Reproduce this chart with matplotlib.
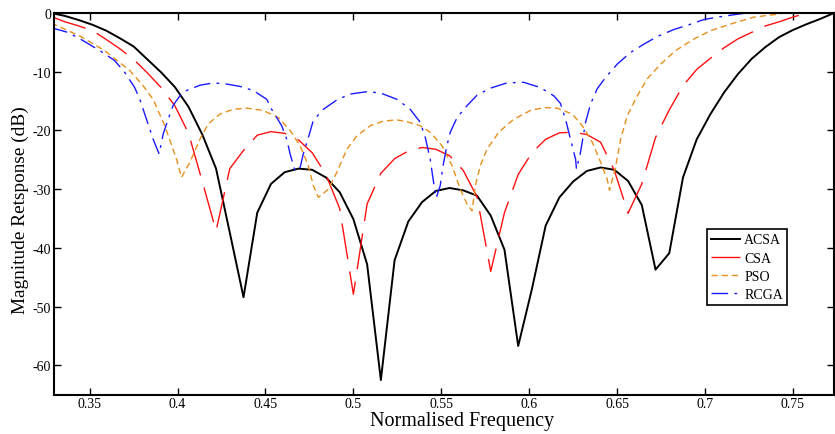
import matplotlib
matplotlib.use("Agg")
import matplotlib.pyplot as plt

plt.rcParams['font.family'] = ['Liberation Serif', 'DejaVu Serif']
plt.rcParams['axes.unicode_minus'] = False

# ---- data ----
# ACSA and CSA sampled on the normalised-frequency grid k/128, k = 42..99
freq_grid = [42/128, 43/128, 44/128, 45/128, 46/128, 47/128, 48/128, 49/128,
             50/128, 51/128, 52/128, 53/128, 54/128, 55/128, 56/128, 57/128,
             58/128, 59/128, 60/128, 61/128, 62/128, 63/128, 64/128, 65/128,
             66/128, 67/128, 68/128, 69/128, 70/128, 71/128, 72/128, 73/128,
             74/128, 75/128, 76/128, 77/128, 78/128, 79/128, 80/128, 81/128,
             82/128, 83/128, 84/128, 85/128, 86/128, 87/128, 88/128, 89/128,
             90/128, 91/128, 92/128, 93/128, 94/128, 95/128, 96/128, 97/128,
             98/128, 99/128]

acsa = [0.0, -0.5, -1.2, -2.0, -3.0, -4.3, -5.7, -7.9, -10.1, -12.6, -16.0,
        -20.7, -26.5, -37.4, -48.4, -34.0, -29.1, -27.1, -26.5, -26.7, -28.0,
        -30.5, -35.1, -42.8, -62.5, -42.1, -35.5, -32.2, -30.3, -29.8, -30.2,
        -31.1, -34.5, -40.3, -56.7, -47.0, -36.2, -31.4, -28.7, -26.9, -26.3,
        -26.7, -28.6, -32.7, -43.7, -40.9, -28.0, -21.5, -17.2, -13.5, -10.4,
        -7.8, -5.8, -4.1, -2.9, -1.9, -1.0, 0.0]

csa = [-0.6, -1.5, -2.2, -3.0, -4.5, -6.1, -7.9, -10.2, -12.7, -15.8, -20.5,
       -28.7, -37.1, -26.5, -23.4, -20.8, -20.2, -20.5, -21.6, -23.8, -27.5,
       -33.3, -47.9, -32.5, -27.3, -24.8, -23.5, -22.9, -23.2, -24.3, -26.8,
       -31.3, -44.0, -34.0, -27.5, -23.8, -21.5, -20.4, -20.3, -20.7, -22.0,
       -26.8, -34.1, -29.1, -21.2, -16.5, -12.4, -9.6, -7.7, -5.9, -4.4,
       -3.3, -2.2, -1.5, -0.7, 0.0, 0.4, 0.6]

pso_freq = [0.3281, 0.3443, 0.3585, 0.3728, 0.3804, 0.3861, 0.3927, 0.3994,
            0.4022, 0.4070, 0.4127, 0.4174, 0.4241, 0.4317, 0.4393, 0.4487,
            0.4573, 0.4640, 0.4697, 0.4744, 0.4772, 0.4801, 0.4858, 0.4906,
            0.4963, 0.5020, 0.5095, 0.5171, 0.5248, 0.5305, 0.5380, 0.5437,
            0.5504, 0.5561, 0.5608, 0.5646, 0.5675, 0.5694, 0.5722, 0.5760,
            0.5827, 0.5912, 0.6007, 0.6083, 0.6159, 0.6245, 0.6302, 0.6359,
            0.6406, 0.6444, 0.6457, 0.6491, 0.6520, 0.6558, 0.6615, 0.6672,
            0.6748, 0.6833, 0.6938, 0.7033, 0.7165, 0.7279, 0.7413, 0.7489,
            0.7734]
pso = [-1.7, -3.9, -6.4, -9.8, -12.4, -14.7, -19.2, -24.9,
       -28.0, -25.4, -21.5, -18.9, -17.2, -16.4, -16.2, -16.6,
       -17.8, -20.0, -22.6, -26.0, -29.4, -31.4, -30.0, -27.1,
       -23.2, -20.9, -19.2, -18.4, -18.2, -18.5, -19.2, -20.3,
       -22.6, -26.0, -30.0, -32.5, -33.7, -29.4, -26.0, -23.2,
       -20.3, -18.1, -16.6, -16.1, -16.2, -17.2, -19.2, -22.0,
       -25.4, -28.3, -30.2, -26.3, -21.5, -17.5, -14.1, -11.2,
       -8.7, -6.4, -4.4, -3.0, -1.7, -0.7, -0.2, 0.2,
       1.0]

rcga_freq = [0.3281, 0.3376, 0.3462, 0.3557, 0.3642, 0.3699, 0.3756, 0.3785,
             0.3813, 0.3861, 0.3895, 0.3918, 0.3946, 0.3975, 0.4013, 0.4051,
             0.4127, 0.4203, 0.4279, 0.4355, 0.4431, 0.4507, 0.4535, 0.4592,
             0.4621, 0.4640, 0.4668, 0.4697, 0.4715, 0.4744, 0.4772, 0.4829,
             0.4906, 0.4981, 0.5077, 0.5152, 0.5248, 0.5323, 0.5380, 0.5409,
             0.5437, 0.5456, 0.5471, 0.5494, 0.5510, 0.5532, 0.5551, 0.5590,
             0.5646, 0.5703, 0.5779, 0.5874, 0.5969, 0.6064, 0.6140, 0.6178,
             0.6207, 0.6235, 0.6264, 0.6269, 0.6292, 0.6321, 0.6349, 0.6387,
             0.6434, 0.6501, 0.6577, 0.6653, 0.6729, 0.6824, 0.6909, 0.6995,
             0.7071, 0.7186, 0.7318, 0.7734]
rcga = [-2.5, -3.3, -4.7, -6.4, -8.1, -10.1, -12.7, -14.7,
        -17.2, -21.5, -24.0, -20.6, -18.1, -15.7, -14.1, -13.2,
        -12.3, -11.9, -12.1, -12.5, -13.2, -14.7, -16.4, -19.2,
        -21.5, -24.0, -26.9, -26.3, -24.0, -21.2, -18.3, -16.4,
        -14.8, -13.8, -13.4, -13.6, -14.7, -16.4, -18.6, -21.2,
        -24.9, -28.8, -31.5, -29.4, -26.0, -22.6, -20.3, -17.8,
        -15.8, -14.0, -12.8, -11.9, -11.8, -12.7, -14.1, -15.4,
        -18.1, -21.5, -24.9, -26.6, -23.7, -18.6, -15.5, -12.9,
        -11.0, -8.7, -6.7, -5.3, -4.0, -2.8, -2.0, -1.1,
        -0.7, -0.2, 0.3, 1.5]

series_labels = ['ACSA', 'CSA', 'PSO', 'RCGA']
xtick_vals = [0.35, 0.4, 0.45, 0.5, 0.55, 0.6, 0.65, 0.7, 0.75]
xtick_labels = ['0.35', '0.4', '0.45', '0.5', '0.55', '0.6', '0.65', '0.7', '0.75']
ytick_vals = [0, -10, -20, -30, -40, -50, -60]
ytick_labels = ['0', '-10', '-20', '-30', '-40', '-50', '-60']

# ---- figure ----
fig = plt.figure(figsize=(8.35, 4.35), dpi=100)
ax = fig.add_axes([0.0647, 0.0903, 0.9341, 0.8775])

ax.plot(freq_grid, acsa, color='black', lw=1.4, label=series_labels[0])
ax.plot(freq_grid, csa, color='#ff1010', lw=1.0, dashes=(26, 9),
        label=series_labels[1])
ax.plot(pso_freq, pso, color='#e8901e', lw=1.0, dashes=(4.5, 2.8),
        label=series_labels[2])
ax.plot(rcga_freq, rcga, color='#1a1aff', lw=1.0, dashes=(12, 4.5, 2, 4.5),
        label=series_labels[3])

ax.set_xlim(0.3297, 0.7734)
ax.set_ylim(-65, 0)
ax.set_xticks(xtick_vals)
ax.set_xticklabels(xtick_labels)
ax.set_yticks(ytick_vals)
ax.set_yticklabels(ytick_labels)
ax.tick_params(direction='in', length=5, width=1.0, top=True, right=True,
               labelsize=10)
ax.tick_params(axis='x', pad=1.5)
ax.tick_params(axis='y', pad=2)
for s in ax.spines.values():
    s.set_linewidth(1.5)

ax.set_xlabel('Normalised Frequency', fontsize=14.5)
ax.xaxis.set_label_coords(0.5237, -0.042)
ax.set_ylabel('Magnitude Retsponse (dB)', fontsize=13.9)
ax.yaxis.set_label_coords(-0.032, 0.4865)

leg = ax.legend(loc='lower right', bbox_to_anchor=(0.9397, 0.235),
                fontsize=10, frameon=True, fancybox=False,
                edgecolor='black', framealpha=1, borderpad=0.3,
                labelspacing=0.37, handlelength=2.1, handletextpad=0.29,
                borderaxespad=0)
leg.get_frame().set_linewidth(1.2)

fig.savefig('out.png', dpi=100)
